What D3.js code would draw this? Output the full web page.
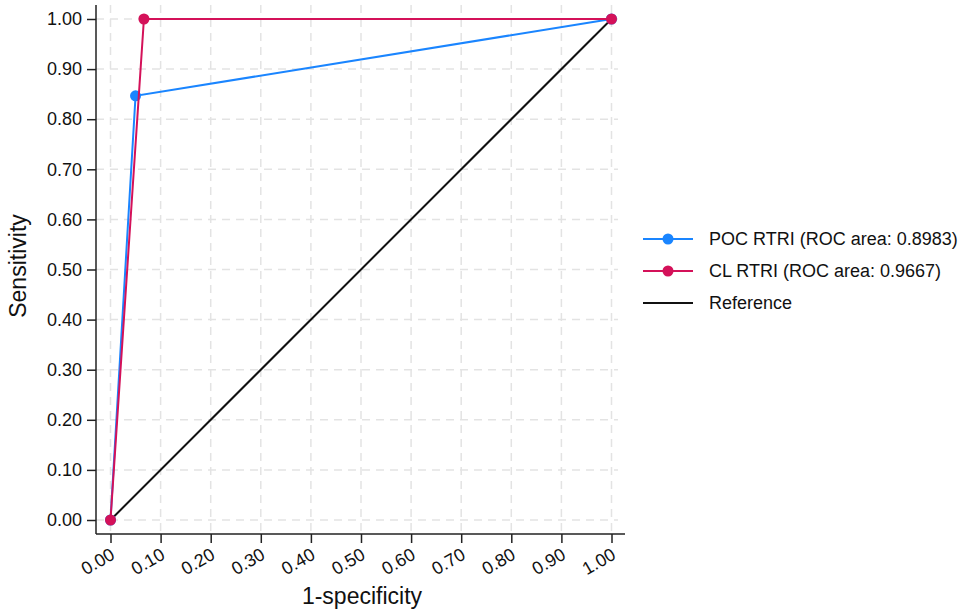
<!DOCTYPE html>
<html lang="en">
<head>
<meta charset="UTF-8"/>
<title>ROC curves</title>
<script src="https://cdn.jsdelivr.net/npm/d3@7"></script>
<style>
  body { margin: 0; background: #fff; }
  text { font-family: "Liberation Sans", Arial, Helvetica, sans-serif; fill: #111; }
</style>
</head>
<body>
<script>
var w = 962;
var h = 611;

// data
var ticks = [0, 0.1, 0.2, 0.3, 0.4, 0.5, 0.6, 0.7, 0.8, 0.9, 1.0];
var seriesNames = ["POC RTRI (ROC area: 0.8983)", "CL RTRI (ROC area: 0.9667)", "Reference"];
var pocX = [0, 0.05, 1];
var pocY = [0, 0.8467, 1];
var clX = [0, 0.0667, 1];
var clY = [0, 1, 1];
var refX = [0, 1];
var refY = [0, 1];

var colors = ["#1a85ff", "#d41159", "#111111"];

var plotLeft = 96, plotRight = 625, plotTop = 5, plotBottom = 534;

var x = d3.scaleLinear().domain([0, 1]).range([110.5, 611.5]);
var y = d3.scaleLinear().domain([0, 1]).range([520, 19]);

var svg = d3.select("body").append("svg")
  .attr("width", w)
  .attr("height", h);

// grid
svg.append("g").selectAll("line")
  .data(ticks)
  .enter().append("line")
  .attr("x1", function(d) { return x(d); })
  .attr("x2", function(d) { return x(d); })
  .attr("y1", plotTop)
  .attr("y2", plotBottom)
  .attr("stroke", "#e3e3e3")
  .attr("stroke-width", 1.5)
  .attr("stroke-dasharray", "8,6");

svg.append("g").selectAll("line")
  .data(ticks)
  .enter().append("line")
  .attr("y1", function(d) { return y(d); })
  .attr("y2", function(d) { return y(d); })
  .attr("x1", plotLeft)
  .attr("x2", plotRight - 7)
  .attr("stroke", "#e3e3e3")
  .attr("stroke-width", 1.5)
  .attr("stroke-dasharray", "8,6");

// axes
var xAxis = d3.axisBottom(x).tickValues(ticks).tickFormat(d3.format(".2f")).tickSize(9).tickSizeOuter(0);
var yAxis = d3.axisLeft(y).tickValues(ticks).tickFormat(d3.format(".2f")).tickSize(9).tickSizeOuter(0);

var gx = svg.append("g").attr("transform", "translate(0," + plotBottom + ")").call(xAxis);
gx.select(".domain").remove();
gx.append("line").attr("x1", plotLeft).attr("x2", plotRight).attr("stroke", "#222").attr("stroke-width", 1.5);
gx.selectAll(".tick line").attr("stroke", "#222").attr("stroke-width", 1.5);
gx.selectAll(".tick text")
  .attr("font-size", 18)
  .attr("fill", "#111")
  .attr("text-anchor", "end")
  .attr("dy", null)
  .attr("y", null)
  .attr("transform", "translate(5,24) rotate(-30)");

var gy = svg.append("g").attr("transform", "translate(" + plotLeft + ",0)").call(yAxis);
gy.select(".domain").remove();
gy.append("line").attr("y1", plotTop).attr("y2", plotBottom).attr("stroke", "#222").attr("stroke-width", 1.5);
gy.selectAll(".tick line").attr("stroke", "#222").attr("stroke-width", 1.5);
gy.selectAll(".tick text")
  .attr("font-size", 18)
  .attr("fill", "#111")
  .attr("x", -14);

// axis titles
svg.append("text")
  .attr("x", 362)
  .attr("y", 604)
  .attr("text-anchor", "middle")
  .attr("font-size", 23)
  .text("1-specificity");

svg.append("text")
  .attr("transform", "translate(26,266) rotate(-90)")
  .attr("text-anchor", "middle")
  .attr("font-size", 23)
  .text("Sensitivity");

// lines
var line = d3.line()
  .x(function(d) { return x(d[0]); })
  .y(function(d) { return y(d[1]); });

var series = [
  { xs: refX, ys: refY, color: colors[2], markers: false },
  { xs: pocX, ys: pocY, color: colors[0], markers: true },
  { xs: clX, ys: clY, color: colors[1], markers: true }
];

series.forEach(function(s) {
  var pts = d3.zip(s.xs, s.ys);
  svg.append("path")
    .datum(pts)
    .attr("d", line)
    .attr("fill", "none")
    .attr("stroke", s.color)
    .attr("stroke-width", 2);
  if (s.markers) {
    svg.append("g").selectAll("circle")
      .data(pts)
      .enter().append("circle")
      .attr("cx", function(d) { return x(d[0]); })
      .attr("cy", function(d) { return y(d[1]); })
      .attr("r", 5.5)
      .attr("fill", s.color);
  }
});

// legend
var legend = svg.append("g").attr("transform", "translate(643,239)");
var items = legend.selectAll("g")
  .data(seriesNames)
  .enter().append("g")
  .attr("transform", function(d, i) { return "translate(0," + (i * 32) + ")"; });

items.append("line")
  .attr("x1", 0).attr("x2", 50)
  .attr("stroke", function(d, i) { return colors[i]; })
  .attr("stroke-width", 2);

items.filter(function(d, i) { return i < 2; })
  .append("circle")
  .attr("cx", 25).attr("r", 5.5)
  .attr("fill", function(d, i) { return colors[i]; });

items.append("text")
  .attr("x", 66)
  .attr("dy", "0.35em")
  .attr("font-size", 18)
  .text(function(d) { return d; });
</script>
</body>
</html>
